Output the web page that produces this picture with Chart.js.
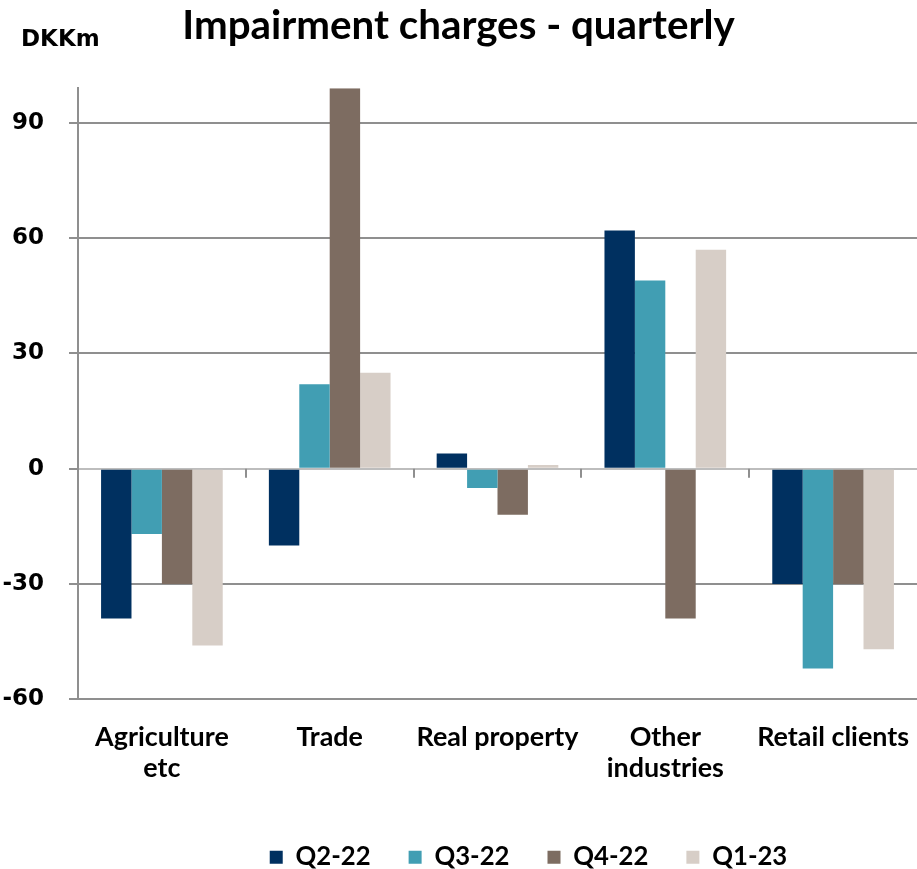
<!DOCTYPE html>
<html>
<head>
<meta charset="utf-8">
<script src="https://cdn.jsdelivr.net/npm/chart.js@4/dist/chart.umd.min.js"></script>
<style>
  html, body { margin: 0; padding: 0; background: #ffffff; }
  #wrap { width: 917px; height: 869px; position: relative; }
</style>
</head>
<body>
<div id="wrap"><canvas id="chart"></canvas></div>
<script>
// Impairment charges by industry, DKKm, last four quarters
const categories = [['Agriculture', 'etc'], 'Trade', 'Real property', ['Other', 'industries'], 'Retail clients'];
const seriesNames = ['Q2-22', 'Q3-22', 'Q4-22', 'Q1-23'];
const q2_22 = [-39, -20, 4, 62, -30];
const q3_22 = [-17, 22, -5, 49, -52];
const q4_22 = [-30, 99, -12, -39, -30];
const q1_23 = [-46, 25, 1, 57, -47];
const yTicks = [-60, -30, 0, 30, 60, 90];
const unitLabel = 'DKKm';
const titleText = 'Impairment charges - quarterly';

const seriesValues = [q2_22, q3_22, q4_22, q1_23];
const seriesColors = ['#003060', '#419EB3', '#7D6C61', '#D7CEC7'];
const gridColor = '#8f8f8f';
const zeroColor = '#bdbdbd';

// pick a font size so that a string spans a given width
function fitSize(text, family, target) {
  const ctx = document.createElement('canvas').getContext('2d');
  ctx.font = 'bold 100px ' + family;
  return Math.round(100 * target / ctx.measureText(text).width * 10) / 10;
}
const sansFamily = 'Lato, "Open Sans", sans-serif';
const titleSize = fitSize(titleText, sansFamily, 552);
const catSize = fitSize('Agriculture', sansFamily, 134);
const legendSize = fitSize('Q2-22', sansFamily, 75);

// zero line separators, legend placement and the unit label
const extras = {
  id: 'extras',
  afterLayout(chart) {
    const lg = chart.legend;
    if (lg) {
      lg.left += 70; lg.right += 70;
      lg.top += 11; lg.bottom += 11;
    }
  },
  beforeDatasetsDraw(chart) {
    const { ctx } = chart;
    const y0 = chart.scales.y.getPixelForValue(0);
    const x = chart.scales.x;
    ctx.save();
    ctx.strokeStyle = gridColor;
    ctx.lineWidth = 2;
    ctx.beginPath();
    for (let i = 1; i < categories.length; i++) {
      const xb = Math.round((x.getPixelForValue(i - 1) + x.getPixelForValue(i)) / 2);
      ctx.moveTo(xb, y0);
      ctx.lineTo(xb, y0 + 9);
    }
    ctx.stroke();
    ctx.restore();
  },
  afterDraw(chart) {
    const { ctx } = chart;
    ctx.save();
    ctx.font = 'bold 23px "DejaVu Sans"';
    ctx.fillStyle = '#000000';
    ctx.textAlign = 'left';
    ctx.textBaseline = 'alphabetic';
    ctx.fillText(unitLabel, 21, 46);
    ctx.restore();
  }
};

new Chart(document.getElementById('chart'), {
  type: 'bar',
  data: {
    labels: categories,
    datasets: seriesNames.map((name, i) => ({
      label: name,
      data: seriesValues[i],
      backgroundColor: seriesColors[i],
      borderWidth: 0,
      categoryPercentage: 0.725,
      barPercentage: 1.0
    }))
  },
  options: {
    responsive: true,
    maintainAspectRatio: false,
    animation: false,
    devicePixelRatio: 1,
    layout: { padding: { left: 0, right: 0, top: 0, bottom: 0 } },
    plugins: {
      tooltip: { enabled: false },
      title: {
        display: true,
        text: titleText,
        color: '#000000',
        font: { family: sansFamily, weight: 'bold', size: titleSize },
        padding: { top: 2, bottom: 38 }
      },
      legend: {
        position: 'bottom',
        labels: {
          color: '#000000',
          font: { family: sansFamily, weight: 'bold', size: legendSize },
          boxWidth: 13,
          boxHeight: 13,
          padding: 38
        }
      }
    },
    scales: {
      x: {
        grid: { display: false },
        border: { display: false },
        afterFit(s) { s.height = 96; s.paddingLeft = 0; s.paddingRight = 0; },
        ticks: {
          color: '#000000',
          font: { family: sansFamily, weight: 'bold', size: catSize, lineHeight: 1.15 },
          padding: 15,
          maxRotation: 0,
          autoSkip: false
        }
      },
      y: {
        min: -60,
        max: 99,
        afterFit(s) { s.width = 78; },
        afterBuildTicks(s) { s.ticks = yTicks.map(v => ({ value: v })); },
        grid: {
          color: ctx => (ctx.tick && ctx.tick.value === 0 ? zeroColor : gridColor),
          lineWidth: 2,
          tickLength: 9,
          drawTicks: true,
          tickColor: gridColor
        },
        border: { color: gridColor, width: 2 },
        ticks: {
          color: '#000000',
          font: { family: '"DejaVu Sans"', weight: 'bold', size: 23 },
          padding: 25
        }
      }
    }
  },
  plugins: [extras]
});
</script>
</body>
</html>
